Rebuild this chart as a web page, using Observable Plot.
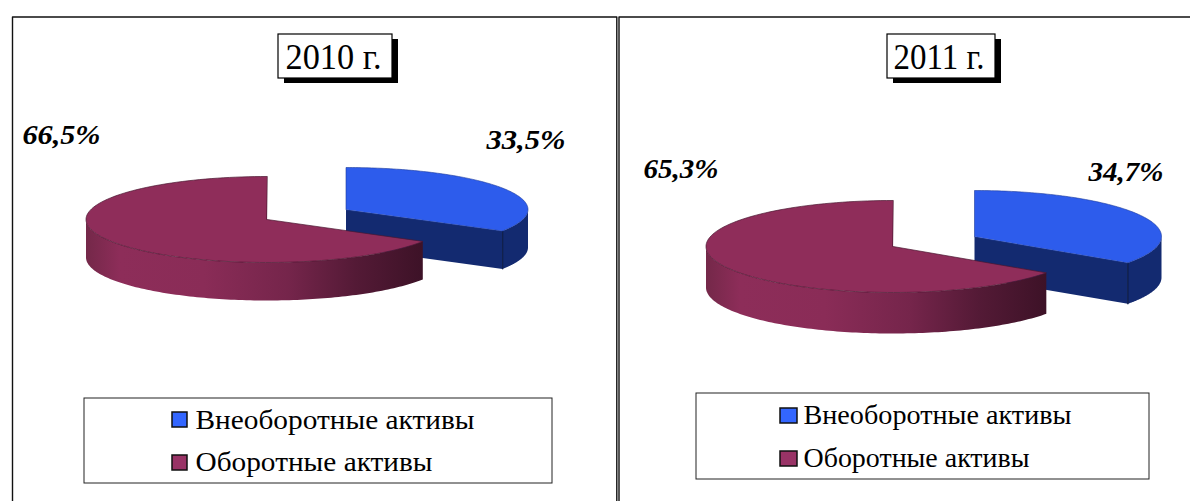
<!DOCTYPE html>
<html>
<head>
<meta charset="utf-8">
<script src="https://cdn.jsdelivr.net/npm/d3@7"></script>
<script src="https://cdn.jsdelivr.net/npm/@observablehq/plot@0.6"></script>
<style>html,body{margin:0;padding:0;background:#fff}svg{display:block}</style>
</head>
<body>
<div id="app"></div>
<script>
// ---- values
const years = ["2010 г.", "2011 г."];
const categories = ["Внеоборотные активы", "Оборотные активы"];
const nonCurrentShare = [33.5, 34.7];
const currentShare = [66.5, 65.3];

// ---- layout
const W = 1190, H = 501;
const panels = [
  {frame: [12, 616.3], top: 16.5, box: [278, 34, 392, 78], titleW: 96, titleX: 285, titleY: 68,
   blue: {cx: 345.5, cy: 209, rx: 182, ry: 42}, maroon: {cx: 266.5, cy: 219, rx: 181, ry: 43}, depth: 38,
   blueLabel: [486, 148, 79], maroonLabel: [22, 143, 78],
   legend: {box: [84, 398, 552, 483], sx: [172, 187], sy: [412, 455], tx: 195, ty: [428, 470], tw: [279, 237]}},
  {frame: [618.5, 1195], top: 16.5, box: [887, 34, 995, 78], titleW: 91, titleX: 893, titleY: 68,
   blue: {cx: 974, cy: 236, rx: 187, ry: 46}, maroon: {cx: 892.5, cy: 246, rx: 187, ry: 46}, depth: 41,
   blueLabel: [1088, 180, 75], maroonLabel: [643, 177, 75],
   legend: {box: [696, 393, 1149, 479], sx: [780, 797], sy: [408, 451], tx: 803, ty: [423, 466], tw: [268, 226]}}
];
const blueTop = "#2d5cec", blueSide = "#132a70", maroonTop = "#8f2d5a";
const blueSwatch = "#3366ff", maroonSwatch = "#993366";

// ---- geometry of a slice, from its share of the circle (bearing clockwise from 12 o'clock)
const rad = s => s / 100 * 2 * Math.PI;
const pt = (e, t, dy = 0) => ({x: e.cx + e.rx * Math.sin(t), y: e.cy - e.ry * Math.cos(t) + dy});
const arc = (e, a, b, dy = 0) => d3.range(0, 121).map(i => pt(e, a + (b - a) * i / 120, dy));

const shape = (pts, fill, stroke = "none", strokeWidth = 0.8) =>
  Plot.line(pts, {x: "x", y: "y", fill, stroke, strokeWidth, curve: "linear-closed"});

const marks = [];

// frames
panels.forEach(p => {
  const [l, r] = p.frame;
  marks.push(
    Plot.line([{x: l, y: H + 5}, {x: l, y: p.top}, {x: r, y: p.top}, {x: r, y: H + 5}],
      {x: "x", y: "y", stroke: "#111", strokeWidth: 1.4})
  );
});

panels.forEach((p, i) => {
  // blue slice (behind)
  const b = p.blue, d = p.depth, tb = rad(nonCurrentShare[i]);
  marks.push(shape([{x: b.cx, y: b.cy}, pt(b, tb), pt(b, tb, d), {x: b.cx, y: b.cy + d}], blueSide));
  marks.push(shape([...arc(b, Math.PI / 2, tb), ...arc(b, tb, Math.PI / 2, d)], blueSide));
  marks.push(shape([pt(b, tb), pt(b, tb, d)], "none", "#0c1a45", 0.8));
  marks.push(shape([{x: b.cx, y: b.cy}, ...arc(b, 0, tb)], blueTop, "#1d3a9a", 0.6));

  // maroon slice (in front)
  const m = p.maroon, ts = 2 * Math.PI - rad(currentShare[i]);
  marks.push(shape([...arc(m, ts, 1.5 * Math.PI), ...arc(m, 1.5 * Math.PI, ts, d)], `url(#wall${i})`));
  marks.push(shape([{x: m.cx, y: m.cy}, ...arc(m, ts, 2 * Math.PI)], maroonTop, "#4a1730", 0.7));

  // title with its shadow
  const [x1, y1, x2, y2] = p.box;
  marks.push(Plot.rect([{}], {x1: x1 + 6, y1: y1 + 5, x2: x2 + 6, y2: y2 + 5, fill: "#000"}));
  marks.push(Plot.rect([{}], {x1, y1, x2, y2, fill: "#fff", stroke: "#000", strokeWidth: 1.2}));

  // legend
  const g = p.legend;
  marks.push(Plot.rect([{}], {x1: g.box[0], y1: g.box[1], x2: g.box[2], y2: g.box[3], fill: "#fff", stroke: "#222", strokeWidth: 1}));
  [blueSwatch, maroonSwatch].forEach((c, k) => {
    marks.push(Plot.rect([{}], {x1: g.sx[0], x2: g.sx[1], y1: g.sy[k], y2: g.sy[k] + 15, fill: c, stroke: "#111", strokeWidth: 1.5}));
  });
});

// texts (stretched afterwards to the measured widths, as the picture is)
const pct = v => String(v).replace(".", ",") + "%";
const titleRows = panels.map((p, i) => ({t: years[i], x: p.titleX, y: p.titleY, w: p.titleW}));
const labelRows = panels.flatMap((p, i) => [
  {t: pct(nonCurrentShare[i]), x: p.blueLabel[0], y: p.blueLabel[1], w: p.blueLabel[2]},
  {t: pct(currentShare[i]), x: p.maroonLabel[0], y: p.maroonLabel[1], w: p.maroonLabel[2]}
]);
const legendRows = panels.flatMap(p => categories.map((c, k) => ({t: c, x: p.legend.tx, y: p.legend.ty[k], w: p.legend.tw[k]})));
const textMark = (rows, cls, o) => Plot.text(rows, {x: "x", y: "y", text: "t", textAnchor: "start", lineAnchor: "bottom", fill: "#000", className: cls, ...o});
marks.push(textMark(titleRows, "stretch-title", {fontSize: 35}));
marks.push(textMark(labelRows, "stretch-label", {fontSize: 27, fontWeight: "bold", fontStyle: "italic"}));
marks.push(textMark(legendRows, "stretch-legend", {fontSize: 27}));

const chart = Plot.plot({
  width: W, height: H, margin: 0,
  x: {domain: [0, W], range: [0, W], axis: null},
  y: {domain: [0, H], range: [0, H], axis: null},
  style: {fontFamily: "'Liberation Serif', serif", background: "#fff", overflow: "hidden"},
  marks
});

// wall gradients
const svgSel = d3.select(chart);
const defs = svgSel.insert("defs", ":first-child");
panels.forEach((p, i) => {
  const lg = defs.append("linearGradient").attr("id", `wall${i}`).attr("x1", 0).attr("x2", 1).attr("y1", 0).attr("y2", 0);
  [[0, "#742849"], [0.1, "#8d2d59"], [0.35, "#8a2c57"], [0.6, "#75254b"], [0.8, "#541a36"], [1, "#3d1227"]]
    .forEach(([o, c]) => lg.append("stop").attr("offset", o).attr("stop-color", c));
});
[["stretch-title", titleRows], ["stretch-label", labelRows], ["stretch-legend", legendRows]].forEach(([cls, rows]) => {
  svgSel.selectAll(`g.${cls} text`).each(function (_, i) {
    d3.select(this).attr("textLength", rows[i].w).attr("lengthAdjust", "spacingAndGlyphs");
  });
});
document.getElementById("app").appendChild(chart);
</script>
</body>
</html>
